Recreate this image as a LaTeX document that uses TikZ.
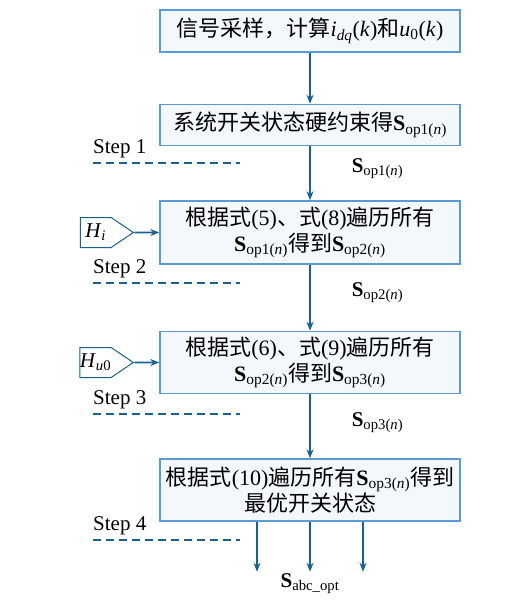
\documentclass[tikz,border=0pt]{standalone}
\usepackage{fontspec}
\setmainfont{Liberation Serif}
\newfontfamily\cjk{Noto Sans CJK SC}
\usetikzlibrary{positioning, calc, arrows.meta, shapes.symbols}
\definecolor{boxline}{HTML}{5B9BD5}
\definecolor{boxfill}{HTML}{F4F7FC}
\definecolor{flow}{HTML}{17628F}
\tikzset{stepbox/.style={draw=boxline, line width=1.5pt, fill=boxfill, minimum width=300pt, align=center, inner sep=2pt, font=\fontsize{22}{26}\selectfont}}
\tikzset{hin/.style={draw=flow, line width=1pt, fill=white, shape=signal, signal to=east, signal pointer angle=68, minimum width=53pt, minimum height=30pt, inner xsep=0pt, inner ysep=1pt, font=\fontsize{21}{25}\selectfont}}
\tikzset{arr/.style={draw=flow, line width=1.6pt, -{Stealth[length=9pt, width=7pt]}}}
\tikzset{sepline/.style={draw=flow, line width=1.5pt, dash pattern=on 8pt off 5pt}}
\tikzset{steplab/.style={inner sep=0pt, font=\fontsize{21}{25}\selectfont}}
\tikzset{slab/.style={inner sep=1pt, font=\fontsize{21}{25}\selectfont}}
\newcommand{\Sop}[1]{\textbf{S}\textsubscript{op#1(\textit{n})}}

\begin{document}
\begin{tikzpicture}[x=1pt, y=-1pt]
\useasboundingbox (0,0) rectangle (528,604);
% process boxes
\node[stepbox, minimum height=42pt] (b1) at (310,31)
	{{\cjk 信号采样，计算}\textit{i}\textsubscript{\textit{dq}}(\textit{k}){\cjk 和}\textit{u}\textsubscript{0}(\textit{k})};
\node[stepbox, minimum height=41pt, below=51pt of b1] (b2)
	{{\cjk 系统开关状态硬约束得}\Sop{1}};
\node[stepbox, minimum height=63pt, below=54pt of b2] (b3)
	{{\cjk 根据式}(5){\cjk 、式}(8){\cjk 遍历所有}\\\Sop{1}{\cjk 得到}\Sop{2}};
\node[stepbox, minimum height=62pt, below=66pt of b3] (b4)
	{{\cjk 根据式}(6){\cjk 、式}(9){\cjk 遍历所有}\\\Sop{2}{\cjk 得到}\Sop{3}};
\node[stepbox, minimum height=62pt, below=64pt of b4] (b5)
	{{\cjk 根据式}(10){\cjk 遍历所有}\Sop{3}{\cjk 得到}\\{\cjk 最优开关状态}};
% inputs
\node[hin, left=25pt of b3] (hi) {\textit{H}\textsubscript{\textit{i}}};
\node[hin, left=25pt of b4] (hu) {\textit{H}\textsubscript{\textit{u}0}};
\draw[arr] (hi) -- (b3);
\draw[arr] (hu) -- (b4);
% flow
\draw[arr] (b1) -- (b2);
\draw[arr] (b2) -- node[slab, midway, right=40pt, yshift=5pt]{\Sop{1}} (b3);
\draw[arr] (b3) -- node[slab, midway, right=40pt, yshift=5pt]{\Sop{2}} (b4);
\draw[arr] (b4) -- node[slab, midway, right=40pt, yshift=4pt]{\Sop{3}} (b5);
% outputs
\coordinate (o1) at ($(b5.south)+(-53,50)$);
\coordinate (o2) at ($(b5.south)+(0,50)$);
\coordinate (o3) at ($(b5.south)+(53,50)$);
\draw[arr] (b5.south -| o1) -- (o1);
\draw[arr] (b5.south) -- (o2);
\draw[arr] (b5.south -| o3) -- (o3);
\node[slab, below=1pt of o2] (sabc) {\textbf{S}\textsubscript{abc\_opt}};
% step separators
\foreach \k/\y in {1/163, 2/283, 3/414, 4/540} {
	\coordinate (d\k a) at (93,\y);
	\coordinate (d\k b) at (240,\y);
	\draw[sepline] (d\k a) -- (d\k b);
	\node[steplab, above right=5pt and 0pt of d\k a] (s\k) {Step \k};
}
\end{tikzpicture}
\end{document}
